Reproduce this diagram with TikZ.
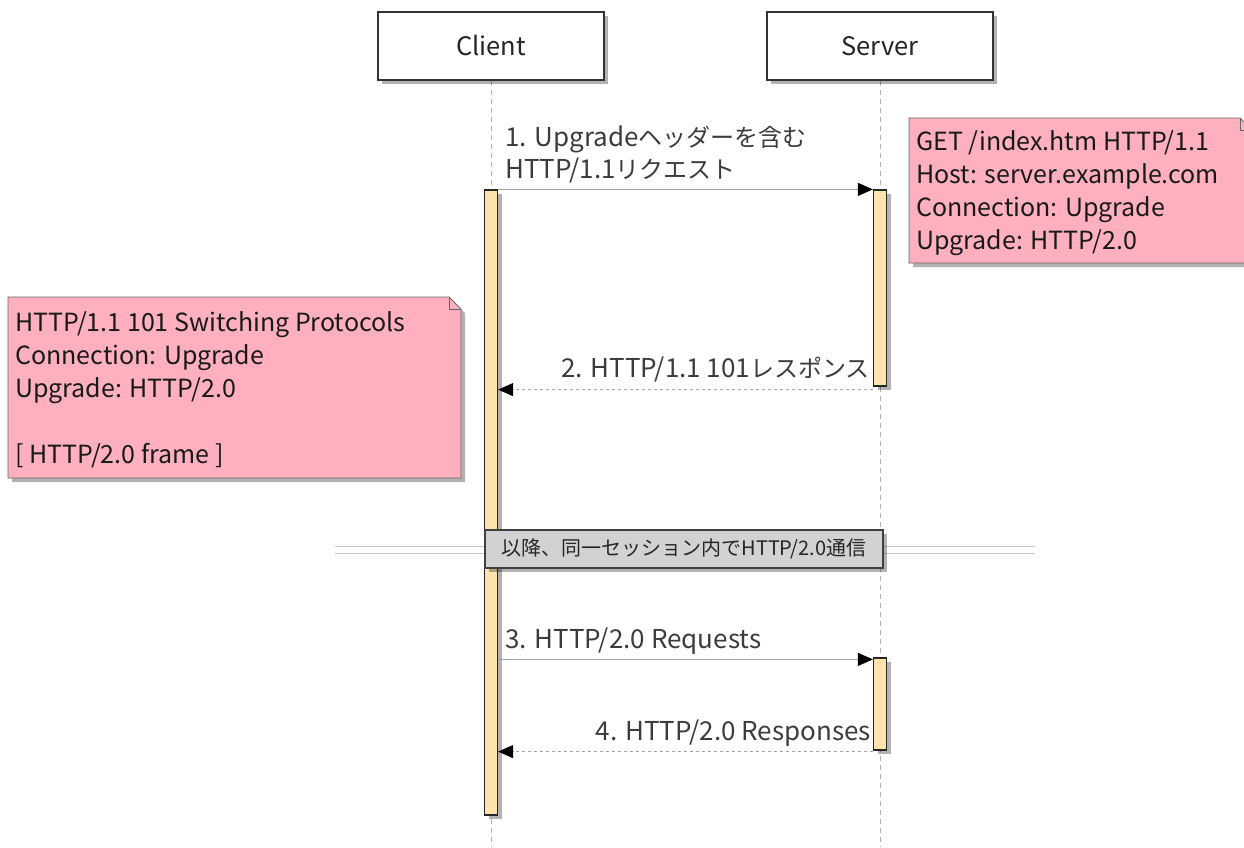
\documentclass[tikz,border=0pt]{standalone}
\usepackage{fontspec}
\setmainfont{Noto Sans CJK JP}
\usetikzlibrary{arrows.meta,shadows}
\pgfdeclarelayer{background}
\pgfsetlayers{background,main}
\definecolor{notepink}{RGB}{255,176,190}
\definecolor{actfill}{RGB}{255,226,172}
\definecolor{divfill}{RGB}{210,210,210}
\definecolor{msgline}{RGB}{165,165,165}
\definecolor{lbl}{RGB}{60,60,60}
\newcommand\jpsmall[1]{{\fontsize{24}{33}\selectfont #1}}
\tikzset{
  shadowed/.style={drop shadow={shadow xshift=4pt,shadow yshift=-4pt,opacity=0.3,fill=black}},
  participant/.style={draw=black!80,line width=1.2pt,fill=white,minimum width=226pt,minimum height=68pt,shadowed,font=\fontsize{25.5}{30}\selectfont,text=black!85},
  lifeline/.style={draw=gray!60,dash pattern=on 5pt off 4pt,line width=0.8pt},
  actbar/.style={draw=black!85,line width=1.2pt,fill=actfill,minimum width=13pt,inner sep=0pt,shadowed},
  msg/.style={draw=msgline,line width=1pt,-{Triangle[length=15pt,width=13pt,color=black,fill=black]}},
  reply/.style={msg,dash pattern=on 3pt off 3pt},
  msglabel/.style={font=\fontsize{26}{33}\selectfont,text=lbl,inner sep=0pt},
  notebox/.style={fill=notepink,draw=black!60,line width=0.8pt,shadowed},
  notetext/.style={font=\fontsize{25}{33}\selectfont,text=black!90,inner sep=0pt,align=left},
  divbox/.style={fill=divfill,draw=black!75,line width=1.2pt,minimum width=398pt,minimum height=38pt,inner sep=0pt,shadowed,font=\fontsize{20}{24}\selectfont,text=black!85},
  divline/.style={draw=gray!45,line width=1.2pt}
}
\begin{document}
\begin{tikzpicture}[x=1pt,y=-1pt]
\useasboundingbox (0,0) rectangle (1244,847);
\clip (0,0) rectangle (1244,847);
% participants
\node[participant] (client) at (491,46) {Client};
\node[participant] (server) at (880,46) {Server};
\coordinate (cbot) at (491,847);
\coordinate (sbot) at (880,847);
\begin{pgfonlayer}{background}
\draw[lifeline] (client.south) -- (cbot);
\draw[lifeline] (server.south) -- (sbot);
\end{pgfonlayer}
% activation bars
\node[actbar,minimum height=625pt] (ca) at (491,502.5) {};
\node[actbar,minimum height=196pt] (sa1) at (880,288) {};
\node[actbar,minimum height=92pt] (sa2) at (880,704) {};
% message 1
\draw[msg] (ca.north east) -- (sa1.north west);
\node[msglabel,anchor=base west] (l1a) at (505,146) {1. Upgrade\jpsmall{ヘッダーを含む}};
\node[msglabel,anchor=base west] (l1b) at (505,178) {HTTP/1.1\jpsmall{リクエスト}};
% message 2
\coordinate (m2s) at ([yshift=-3pt]sa1.south west);
\draw[reply] (m2s) -- (m2s -| ca.east);
\node[msglabel,anchor=base east] (l2) at (870,377) {2. HTTP/1.1 101\jpsmall{レスポンス}};
% divider
\coordinate (dl) at (335,546.5);
\coordinate (dr) at (1035,546.5);
\draw[divline] (dl) -- (dr);
\draw[divline] ([yshift=-7pt]dl) -- ([yshift=-7pt]dr);
\node[divbox] (div) at (684,549) {以降、同一セッション内でHTTP/2.0通信};
% message 3
\coordinate (m3e) at ([yshift=-2pt]sa2.north west);
\draw[msg] (m3e -| ca.east) -- (m3e);
\node[msglabel,anchor=base west] (l3) at (505,648) {3. HTTP/2.0 Requests};
% message 4
\coordinate (m4s) at ([yshift=-1pt]sa2.south west);
\draw[reply] (m4s) -- (m4s -| ca.east);
\node[msglabel,anchor=base east] (l4) at (871,740) {4. HTTP/2.0 Responses};
% note 1 (server side)
\draw[notebox] (909,118) -- (1240,118) -- (1252,130) -- (1252,263) -- (909,263) -- cycle;
\draw[draw=black!60,line width=0.8pt] (1240,118) -- (1240,130) -- (1252,130);
\node[notetext,anchor=north west] (n1) at (916,130) {GET /index.htm HTTP/1.1\\Host: server.example.com\\Connection: Upgrade\\Upgrade: HTTP/2.0};
% note 2 (client side)
\draw[notebox] (8,297) -- (449,297) -- (461,309) -- (461,478) -- (8,478) -- cycle;
\draw[draw=black!60,line width=0.8pt] (449,297) -- (449,309) -- (461,309);
\node[notetext,anchor=north west] (n2) at (15,311) {HTTP/1.1 101 Switching Protocols\\Connection: Upgrade\\Upgrade: HTTP/2.0\\[33pt]{[} HTTP/2.0 frame ]};
\end{tikzpicture}
\end{document}
